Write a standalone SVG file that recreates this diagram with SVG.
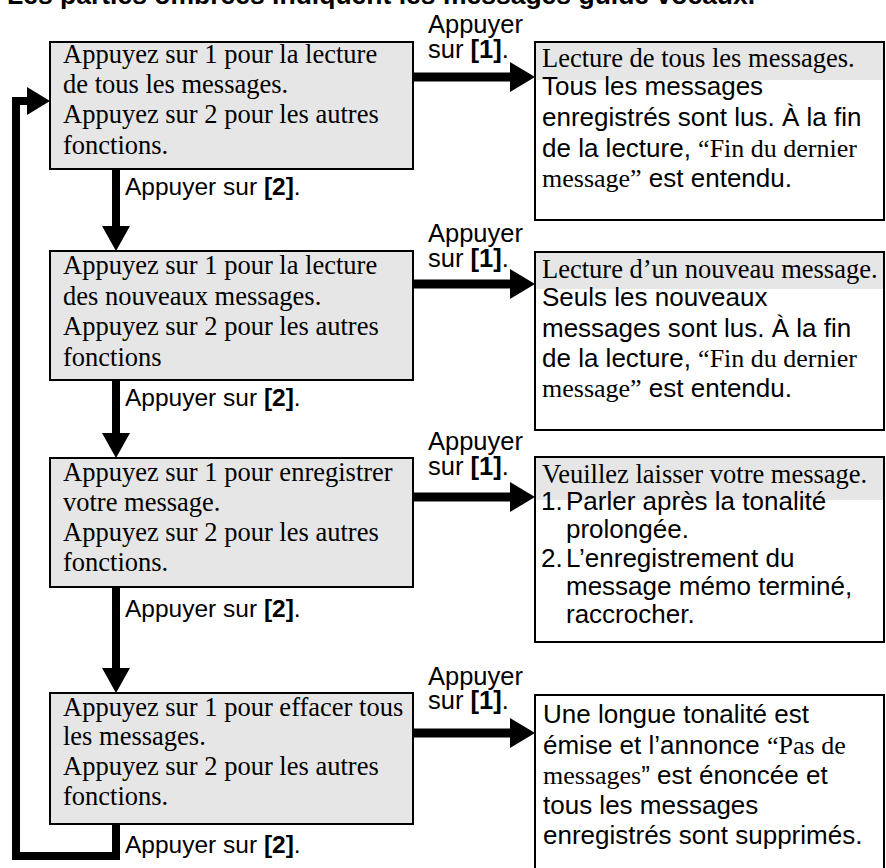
<svg xmlns="http://www.w3.org/2000/svg" width="886" height="868" viewBox="0 0 886 868">
<style>
.bg{fill:#ffffff}
.box{fill:#e6e6e6;stroke:#000;stroke-width:2}
.rbox{fill:none;stroke:#000;stroke-width:2}
.shade{fill:#e6e6e6}
.ln{fill:none;stroke:#000;stroke-width:8;stroke-linejoin:miter;stroke-linecap:butt}
.hl{fill:none;stroke:#000;stroke-width:9}
.head{fill:#000}
.t{font-family:"Liberation Serif","Times New Roman",serif;font-size:26.5px;fill:#000}
.a{font-family:"Liberation Sans",Arial,sans-serif;font-size:26px;fill:#000}
.l{font-family:"Liberation Sans",Arial,sans-serif;font-size:24.5px;fill:#000}
.lr{font-family:"Liberation Sans",Arial,sans-serif;font-size:25.5px;fill:#000}
.tm{font-family:"Liberation Serif","Times New Roman",serif}
.b{font-weight:bold}
.title{font-family:"Liberation Sans",Arial,sans-serif;font-size:26.5px;font-weight:bold;fill:#000}
</style>
<rect class="bg" x="0" y="0" width="886" height="868"/>
<text class="title" x="7" y="4">Les parties ombrées indiquent les messages guide vocaux.</text>

<g id="connectors">
  <path class="ln" d="M116,169 V227"/>
  <polygon class="head" points="102,226 130,226 116,251"/>
  <path class="ln" d="M116,380 V434"/>
  <polygon class="head" points="102,433 130,433 116,458"/>
  <path class="ln" d="M116,587 V669"/>
  <polygon class="head" points="102,668 130,668 116,693"/>
  <path class="ln" d="M116,824 V856 H16 V101 H29"/>
  <polygon class="head" points="27,87 50,101 27,115"/>
  <path class="hl" d="M413,77 H512"/>
  <polygon class="head" points="510,62 535,77 510,92"/>
  <path class="hl" d="M413,284 H512"/>
  <polygon class="head" points="510,269 535,284 510,299"/>
  <path class="hl" d="M413,497 H512"/>
  <polygon class="head" points="510,482 535,497 510,512"/>
  <path class="hl" d="M413,733 H512"/>
  <polygon class="head" points="510,718 535,733 510,748"/>
  <text class="l" x="125" y="195">Appuyer sur <tspan class="b">[2]</tspan>.</text>
  <text class="l" x="125" y="406">Appuyer sur <tspan class="b">[2]</tspan>.</text>
  <text class="l" x="125" y="617">Appuyer sur <tspan class="b">[2]</tspan>.</text>
  <text class="l" x="125" y="853">Appuyer sur <tspan class="b">[2]</tspan>.</text>
  <text class="lr" x="428" y="33">Appuyer</text>
  <text class="lr" x="428" y="58">sur <tspan class="b">[1]</tspan>.</text>
  <text class="lr" x="428" y="242">Appuyer</text>
  <text class="lr" x="428" y="267">sur <tspan class="b">[1]</tspan>.</text>
  <text class="lr" x="428" y="450">Appuyer</text>
  <text class="lr" x="428" y="475">sur <tspan class="b">[1]</tspan>.</text>
  <text class="lr" x="428" y="685">Appuyer</text>
  <text class="lr" x="428" y="709">sur <tspan class="b">[1]</tspan>.</text>
</g>

<g id="menu1">
  <rect class="box" x="50" y="42" width="363" height="127"/>
  <text class="t" x="63" y="63">Appuyez sur 1 pour la lecture</text>
  <text class="t" x="63" y="93">de tous les messages.</text>
  <text class="t" x="63" y="123">Appuyez sur 2 pour les autres</text>
  <text class="t" x="63" y="154">fonctions.</text>
</g>
<g id="menu2">
  <rect class="box" x="50" y="251" width="363" height="129"/>
  <text class="t" x="63" y="274">Appuyez sur 1 pour la lecture</text>
  <text class="t" x="63" y="305">des nouveaux messages.</text>
  <text class="t" x="63" y="335">Appuyez sur 2 pour les autres</text>
  <text class="t" x="63" y="366">fonctions</text>
</g>
<g id="menu3">
  <rect class="box" x="50" y="458" width="363" height="129"/>
  <text class="t" x="63" y="481">Appuyez sur 1 pour enregistrer</text>
  <text class="t" x="63" y="511">votre message.</text>
  <text class="t" x="63" y="541">Appuyez sur 2 pour les autres</text>
  <text class="t" x="63" y="571">fonctions.</text>
</g>
<g id="menu4">
  <rect class="box" x="50" y="693" width="363" height="131"/>
  <text class="t" x="63" y="716">Appuyez sur 1 pour effacer tous</text>
  <text class="t" x="63" y="745">les messages.</text>
  <text class="t" x="63" y="775">Appuyez sur 2 pour les autres</text>
  <text class="t" x="63" y="805">fonctions.</text>
</g>

<g id="result1">
  <rect class="shade" x="535" y="42" width="349" height="38"/>
  <rect class="rbox" x="535" y="42" width="349" height="178"/>
  <text class="t" x="542" y="67">Lecture de tous les messages.</text>
  <text class="a" x="542" y="95">Tous les messages</text>
  <text class="a" x="542" y="126">enregistrés sont lus. À la fin</text>
  <text class="a" x="542" y="157">de la lecture, <tspan class="tm">“Fin du dernier</tspan></text>
  <text class="a" x="542" y="187"><tspan class="tm">message”</tspan> est entendu.</text>
</g>
<g id="result2">
  <rect class="shade" x="535" y="252" width="349" height="37"/>
  <rect class="rbox" x="535" y="252" width="349" height="178"/>
  <text class="t" x="542" y="278">Lecture d’un nouveau message.</text>
  <text class="a" x="542" y="306">Seuls les nouveaux</text>
  <text class="a" x="542" y="337">messages sont lus. À la fin</text>
  <text class="a" x="542" y="367">de la lecture, <tspan class="tm">“Fin du dernier</tspan></text>
  <text class="a" x="542" y="397"><tspan class="tm">message”</tspan> est entendu.</text>
</g>
<g id="result3">
  <rect class="shade" x="535" y="457" width="349" height="43"/>
  <rect class="rbox" x="535" y="457" width="349" height="185"/>
  <text class="t" x="542" y="483">Veuillez laisser votre message.</text>
  <text class="a" x="541" y="510">1.</text>
  <text class="a" x="566" y="510">Parler après la tonalité</text>
  <text class="a" x="566" y="538">prolongée.</text>
  <text class="a" x="541" y="567">2.</text>
  <text class="a" x="566" y="567">L’enregistrement du</text>
  <text class="a" x="566" y="595">message mémo terminé,</text>
  <text class="a" x="566" y="623">raccrocher.</text>
</g>
<g id="result4">
  <rect class="rbox" x="535" y="695" width="349" height="185"/>
  <text class="a" x="543" y="723">Une longue tonalité est</text>
  <text class="a" x="543" y="754">émise et l’annonce <tspan class="tm">“Pas de</tspan></text>
  <text class="a" x="543" y="784"><tspan class="tm">messages</tspan>” est énoncée et</text>
  <text class="a" x="543" y="814">tous les messages</text>
  <text class="a" x="543" y="844">enregistrés sont supprimés.</text>
</g>
</svg>
